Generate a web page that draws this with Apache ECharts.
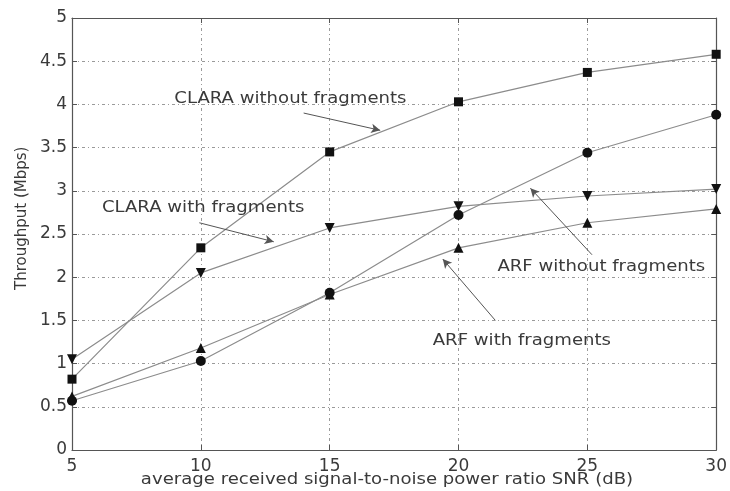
<!DOCTYPE html>
<html>
<head>
<meta charset="utf-8">
<script src="https://cdn.jsdelivr.net/npm/echarts@6/dist/echarts.min.js"></script>
<style>html,body{margin:0;padding:0;background:#fff;}#c{width:730px;height:491px;}</style>
</head>
<body>
<div id="c"></div>
<script>
// ---- data ----
var snr = [5, 10, 15, 20, 25, 30];
var claraWithout = [0.82, 2.34, 3.45, 4.03, 4.37, 4.58];
var claraWith = [1.05, 2.05, 2.57, 2.82, 2.94, 3.02];
var arfWithout = [0.57, 1.03, 1.82, 2.72, 3.44, 3.88];
var arfWith = [0.62, 1.18, 1.80, 2.34, 2.63, 2.79];
var yTicks = [0, 0.5, 1, 1.5, 2, 2.5, 3, 3.5, 4, 4.5, 5];
var xTicks = [5, 10, 15, 20, 25, 30];
var xTitle = 'average received signal-to-noise power ratio SNR (dB)';
var yTitle = 'Throughput (Mbps)';
// annotation texts (data coords of left edge) and arrows (from -> to)
var noteTexts = [
  [8.97, 4.07, 'CLARA without fragments'],
  [6.16, 2.80, 'CLARA with fragments'],
  [21.51, 2.12, 'ARF without fragments'],
  [19.0, 1.26, 'ARF with fragments']
];
var noteArrows = [
  [[13.99, 3.90], [16.96, 3.70]],
  [[9.94, 2.63], [12.83, 2.41]],
  [[25.18, 2.26], [22.79, 3.03]],
  [[21.43, 1.50], [19.39, 2.21]]
];

function pairs(ys) { return snr.map(function (x, i) { return [x, ys[i]]; }); }

var FONT = 'DejaVu Sans';
var TXT = '#3a3a3a';
var LINE = '#8c8c8c';
var STRETCH = 1.13;

function mkSeries(name, ys, symbol, rot, size) {
  return {
    name: name, type: 'line', data: pairs(ys),
    symbol: symbol, symbolSize: size, symbolRotate: rot || 0,
    showSymbol: true,
    lineStyle: { color: LINE, width: 1.2 },
    itemStyle: { color: '#111', borderWidth: 0 },
    animation: false, z: 3
  };
}

var chart = echarts.init(document.getElementById('c'));
var gridLine = { show: true, lineStyle: { color: '#9a9a9a', width: 1, type: [3, 3, 1, 3] } };
var axisLineStyle = { show: true, onZero: false, lineStyle: { color: '#555', width: 1.2 } };
var tickStyle = { show: true, inside: true, length: 5, lineStyle: { color: '#555' } };

var s0 = mkSeries('CLARA without fragments', claraWithout, 'rect', 0, 9);
s0.markLine = {
  silent: true, symbol: ['none', 'arrow'], symbolSize: [7, 9],
  label: { show: false }, animation: false,
  lineStyle: { color: '#555', width: 1, type: 'solid' },
  data: noteArrows.map(function (a) { return [{ coord: a[0] }, { coord: a[1] }]; })
};

var option = {
  backgroundColor: '#fff',
  animation: false,
  grid: { left: 72, right: 10, top: 18, bottom: 41 },
  xAxis: [{
    type: 'value', min: 5, max: 30, interval: 5,
    axisLine: axisLineStyle, axisTick: tickStyle,
    axisLabel: { color: TXT, fontFamily: FONT, fontSize: 17, margin: 8 },
    splitLine: gridLine
  }, {
    type: 'value', min: 5, max: 30, interval: 5, position: 'top',
    axisLine: axisLineStyle, axisTick: tickStyle,
    axisLabel: { show: false }, splitLine: { show: false }
  }],
  yAxis: [{
    type: 'value', min: 0, max: 5, interval: 0.5,
    axisLine: axisLineStyle, axisTick: tickStyle,
    axisLabel: { color: TXT, fontFamily: FONT, fontSize: 17, margin: 5,
      formatter: function (v) { return String(v); } },
    splitLine: gridLine
  }, {
    type: 'value', min: 0, max: 5, interval: 0.5, position: 'right',
    axisLine: axisLineStyle, axisTick: tickStyle,
    axisLabel: { show: false }, splitLine: { show: false }
  }],
  series: [
    s0,
    mkSeries('CLARA with fragments', claraWith, 'triangle', 180, 10),
    mkSeries('ARF without fragments', arfWithout, 'circle', 0, 10),
    mkSeries('ARF with fragments', arfWith, 'triangle', 0, 10)
  ]
};
chart.setOption(option);

var graphics = [
  {
    type: 'text', x: 387, y: 480, scaleX: STRETCH,
    style: { text: xTitle, fill: TXT, font: '16px "DejaVu Sans"',
      textAlign: 'center', textVerticalAlign: 'middle' }
  },
  {
    type: 'text', rotation: Math.PI / 2, x: 22, y: 290,
    style: { text: yTitle, fill: TXT, font: '15px "DejaVu Sans"',
      textAlign: 'left', textVerticalAlign: 'middle' }
  }
];
noteTexts.forEach(function (n) {
  var p = chart.convertToPixel({ gridIndex: 0 }, [n[0], n[1]]);
  graphics.push({
    type: 'text', x: p[0], y: p[1], scaleX: STRETCH, z: 10,
    style: { text: n[2], fill: TXT, font: '16px "DejaVu Sans"',
      textAlign: 'left', textVerticalAlign: 'middle' }
  });
});
chart.setOption({ graphic: graphics });
</script>
</body>
</html>
